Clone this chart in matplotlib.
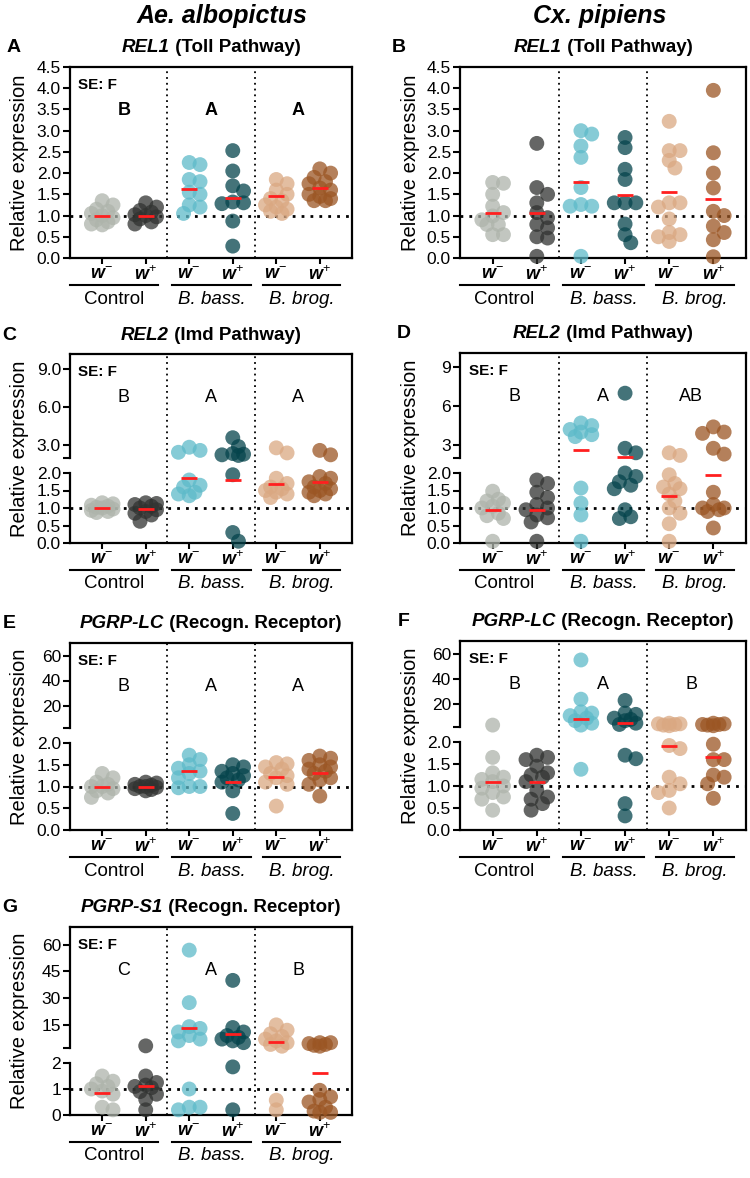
import numpy as np
import matplotlib
matplotlib.use('Agg')
import matplotlib.pyplot as plt
from matplotlib import transforms
from matplotlib.offsetbox import TextArea, HPacker, AnchoredOffsetbox

plt.rcParams['font.family'] = 'Liberation Sans'
plt.rcParams['mathtext.fontset'] = 'custom'
plt.rcParams['mathtext.it'] = 'Liberation Sans:italic:bold'
plt.rcParams['mathtext.rm'] = 'Liberation Sans'
plt.rcParams['mathtext.bf'] = 'Liberation Sans:bold'

# ---- data ----
# group order: Control w-, Control w+, B. bass. w-, B. bass. w+, B. brog. w-, B. brog. w+
group_names = ['Control', 'B. bass.', 'B. brog.']
strain_labels = [r'$w^{-}$', r'$w^{+}$']

# A  REL1, Ae. albopictus
rel1_alb = [[1.35, 1.25, 1.15, 1.1, 1.05, 1.0, 0.95, 0.9, 0.85, 0.8, 0.78],
            [1.3, 1.2, 1.12, 1.08, 1.02, 1.0, 0.97, 0.92, 0.85, 0.8],
            [2.25, 2.2, 1.85, 1.8, 1.55, 1.5, 1.25, 1.2, 1.05],
            [2.53, 2.05, 1.7, 1.58, 1.32, 1.3, 1.28, 0.87, 0.28],
            [1.85, 1.75, 1.6, 1.5, 1.4, 1.35, 1.25, 1.2, 1.15, 1.1, 1.05],
            [2.1, 2.0, 1.9, 1.8, 1.75, 1.65, 1.6, 1.5, 1.45, 1.4, 1.35, 1.35]]
rel1_alb_mean = [1.0, 1.0, 1.63, 1.41, 1.45, 1.65]
rel1_alb_sig = ['B', 'A', 'A']

# B  REL1, Cx. pipiens
rel1_pip = [[1.78, 1.76, 1.5, 1.22, 1.07, 0.99, 0.9, 0.79, 0.79, 0.55, 0.55],
            [2.7, 1.66, 1.5, 1.3, 1.07, 0.95, 0.79, 0.71, 0.5, 0.47, 0.04],
            [3.0, 2.92, 2.64, 2.37, 1.66, 1.26, 1.22, 1.22, 0.04],
            [2.84, 2.6, 2.09, 1.85, 1.3, 1.3, 1.3, 0.8, 0.55, 0.36],
            [3.22, 2.53, 2.53, 2.3, 2.12, 1.3, 1.3, 1.2, 0.92, 0.6, 0.55, 0.5, 0.39],
            [3.95, 2.48, 2.0, 1.65, 1.1, 1.0, 0.75, 0.6, 0.43, 0.03]]
rel1_pip_mean = [1.07, 1.05, 1.8, 1.49, 1.56, 1.38]
rel1_pip_sig = None

# C  REL2, Ae. albopictus
rel2_alb = [[1.15, 1.12, 1.08, 1.05, 1.02, 1.0, 0.97, 0.93, 0.9, 0.87],
            [1.15, 1.13, 1.1, 1.05, 1.0, 0.95, 0.9, 0.85, 0.8, 0.62],
            [2.85, 2.6, 2.45, 1.8, 1.65, 1.6, 1.45, 1.4, 1.35],
            [3.6, 2.9, 2.35, 2.3, 2.25, 2.2, 1.95, 0.3, 0.05],
            [2.8, 2.4, 1.85, 1.7, 1.6, 1.55, 1.5, 1.45, 1.4, 1.3],
            [2.6, 2.25, 1.9, 1.85, 1.75, 1.7, 1.6, 1.55, 1.5, 1.45, 1.4, 1.35]]
rel2_alb_mean = [1.0, 0.96, 1.87, 1.79, 1.7, 1.75]
rel2_alb_sig = ['B', 'A', 'A']

# D  REL2, Cx. pipiens
rel2_pip = [[1.48, 1.25, 1.2, 1.14, 1.05, 1.0, 0.85, 0.78, 0.7, 0.05],
            [1.8, 1.7, 1.45, 1.3, 1.1, 1.0, 0.95, 0.8, 0.72, 0.6, 0.05],
            [4.7, 4.5, 4.2, 4.0, 3.8, 3.65, 1.57, 1.14, 0.8, 0.05],
            [7.0, 2.75, 2.4, 2.0, 1.9, 1.75, 1.65, 1.55, 0.95, 0.75, 0.7],
            [2.4, 2.2, 1.95, 1.7, 1.6, 1.55, 1.4, 1.2, 1.0, 0.85, 0.55, 0.05],
            [4.4, 4.0, 3.9, 2.75, 2.3, 1.45, 1.1, 1.0, 1.0, 0.95, 0.9, 0.43]]
rel2_pip_mean = [0.95, 0.95, 2.62, 2.1, 1.33, 1.93]
rel2_pip_sig = ['B', 'A', 'AB']

# E  PGRP-LC, Ae. albopictus
lc_alb = [[1.3, 1.2, 1.1, 1.05, 1.0, 1.0, 0.95, 0.9, 0.85, 0.75],
          [1.1, 1.08, 1.05, 1.03, 1.0, 1.0, 0.98, 0.95, 0.93, 0.9],
          [1.72, 1.62, 1.5, 1.42, 1.35, 1.3, 1.2, 1.0, 1.0, 0.97],
          [1.5, 1.45, 1.35, 1.3, 1.25, 1.2, 1.15, 1.1, 0.9, 0.38],
          [1.55, 1.52, 1.45, 1.4, 1.3, 1.25, 1.2, 1.1, 1.05, 0.55],
          [1.7, 1.65, 1.6, 1.5, 1.45, 1.4, 1.35, 1.3, 1.2, 1.15, 1.05, 0.78]]
lc_alb_mean = [1.0, 1.0, 1.36, 1.11, 1.22, 1.3]
lc_alb_sig = ['B', 'A', 'A']

# F  PGRP-LC, Cx. pipiens
lc_pip = [[3.5, 1.65, 1.3, 1.2, 1.15, 1.1, 1.0, 0.95, 0.85, 0.75, 0.7, 0.45],
          [1.7, 1.65, 1.6, 1.45, 1.3, 1.25, 1.2, 1.1, 0.9, 0.75, 0.7, 0.6, 0.45],
          [55, 24, 14, 13, 11, 9, 7, 5, 3.5, 1.38],
          [23, 13, 12, 9, 8, 7, 5, 4, 1.7, 1.62, 0.6, 0.32],
          [5, 4.5, 4.5, 4, 3.5, 3, 1.92, 1.85, 1.2, 1.05, 0.9, 0.85, 0.5],
          [5, 4.5, 4, 4, 3.5, 3, 1.95, 1.6, 1.6, 1.25, 1.2, 1.05, 0.72]]
lc_pip_mean = [1.1, 1.08, 8.7, 5.5, 1.9, 1.65]
lc_pip_sig = ['B', 'A', 'B']

# G  PGRP-S1, Ae. albopictus
s1_alb = [[1.5, 1.3, 1.2, 1.1, 1.0, 0.92, 0.8, 0.3, 0.2],
          [3.2, 1.5, 1.25, 1.15, 1.1, 1.05, 0.9, 0.8, 0.6, 0.2],
          [57, 27.5, 14, 13, 11, 9, 7, 6, 1.0, 0.3, 0.3, 0.2],
          [40, 13.5, 11, 9, 8, 7, 6, 5, 1.85, 0.2],
          [15, 12, 10, 8.5, 7, 6, 5, 4, 3, 0.57, 0.2],
          [5, 5, 4.5, 4, 3.5, 3, 0.95, 0.7, 0.6, 0.5, 0.3, 0.15, 0.1, 0.1]]
s1_alb_mean = [0.86, 1.12, 13.5, 9.8, 5.5, 1.62]
s1_alb_sig = ['C', 'A', 'B']

# ---- style ----
colors = ['#aeb4ab', '#313331', '#5dbac9', '#05444c', '#daa882', '#9b5624']
W, H = 750, 1178
fig = plt.figure(figsize=(W / 100, H / 100), dpi=100)


def rect(l, t, r, b):
    return [l / W, 1 - b / H, (r - l) / W, (b - t) / H]


def broken_scale(lo_px, gap_px, up_px, up_max, lo_max=2.0):
    a = lo_px / lo_max
    bb = up_px / (up_max - lo_max)

    def fwd(y):
        y = np.asarray(y, float)
        return np.where(y <= lo_max, y * a, lo_px + gap_px + (y - lo_max) * bb)

    def inv(u):
        u = np.asarray(u, float)
        return np.where(u <= lo_px, u / a,
                        np.where(u < lo_px + gap_px, lo_max,
                                 lo_max + (u - lo_px - gap_px) / bb))
    return fwd, inv


def swarm(ax, xc, vals, d):
    # spread overlapping dots sideways, allowing a fair amount of overlap
    pts = ax.transData.transform(np.column_stack([np.full(len(vals), xc), vals]))
    ypx = pts[:, 1]
    ppu = ax.transData.transform([[1, 0]])[0, 0] - ax.transData.transform([[0, 0]])[0, 0]
    cands = np.array([0, 0.38, -0.38, 0.72, -0.72]) * d
    placed = []
    offs = np.zeros(len(vals))
    for i in np.argsort(-ypx):
        best, best_score = 0, -1
        for c in cands:
            dmin = min([np.hypot(c - ox, ypx[i] - oy) for ox, oy in placed] + [1e9])
            if dmin >= 0.6 * d:
                best = c
                break
            if dmin > best_score:
                best, best_score = c, dmin
        placed.append((best, ypx[i]))
        offs[i] = best
    return xc + offs / ppu


panels = [
    dict(tag='A', vals=rel1_alb, means=rel1_alb_mean, sig=rel1_alb_sig, box=(70, 67, 352, 258),
         gene='REL1', rest=' (Toll Pathway)', bold_sig=True, brk=None),
    dict(tag='B', vals=rel1_pip, means=rel1_pip_mean, sig=rel1_pip_sig, box=(460, 67, 746, 258),
         gene='REL1', rest=' (Toll Pathway)', bold_sig=False, brk=None),
    dict(tag='C', vals=rel2_alb, means=rel2_alb_mean, sig=rel2_alb_sig, box=(70, 354, 352, 543),
         gene='REL2', rest=' (Imd Pathway)', bold_sig=False,
         brk=(70, 15, 104, 10.2), up_ticks=[3, 6, 9], up_fmt='{:.1f}', lo_ticks=[0, 0.5, 1, 1.5, 2], lo_fmt='{:.1f}'),
    dict(tag='D', vals=rel2_pip, means=rel2_pip_mean, sig=rel2_pip_sig, box=(460, 353, 746, 543),
         gene='REL2', rest=' (Imd Pathway)', bold_sig=False,
         brk=(70, 15, 105, 10.1), up_ticks=[3, 6, 9], up_fmt='{:.0f}', lo_ticks=[0, 0.5, 1, 1.5, 2], lo_fmt='{:.1f}'),
    dict(tag='E', vals=lc_alb, means=lc_alb_mean, sig=lc_alb_sig, box=(70, 643, 352, 830),
         gene='PGRP-LC', rest=' (Recogn. Receptor)', bold_sig=False,
         brk=(87, 15, 85, 70), up_ticks=[20, 40, 60], up_fmt='{:.0f}', lo_ticks=[0, 0.5, 1, 1.5, 2], lo_fmt='{:.1f}'),
    dict(tag='F', vals=lc_pip, means=lc_pip_mean, sig=lc_pip_sig, box=(460, 641, 746, 830),
         gene='PGRP-LC', rest=' (Recogn. Receptor)', bold_sig=False,
         brk=(88, 15, 86, 70), up_ticks=[20, 40, 60], up_fmt='{:.0f}', lo_ticks=[0, 0.5, 1, 1.5, 2], lo_fmt='{:.1f}'),
    dict(tag='G', vals=s1_alb, means=s1_alb_mean, sig=s1_alb_sig, box=(70, 927, 352, 1115),
         gene='PGRP-S1', rest=' (Recogn. Receptor)', bold_sig=False,
         brk=(52, 15, 121, 70), up_ticks=[15, 30, 45, 60], up_fmt='{:.0f}', lo_ticks=[0, 1, 2], lo_fmt='{:.0f}'),
]
tag_x = {'A': 14, 'B': 399, 'C': 9, 'D': 404, 'E': 9, 'F': 404, 'G': 10}

line_spans = [(-0.74, 1.28), (1.6, 3.42), (3.7, 5.46)]
dot_d = 15  # marker diameter in px

for p in panels:
    l, t, r, b = p['box']
    hpx = b - t
    ax = fig.add_axes(rect(l, t, r, b))
    ax.set_xlim(-0.74, 5.74)
    if p['brk'] is None:
        ax.set_ylim(0, 4.5)
        yt = np.arange(0, 4.51, 0.5)
        ax.set_yticks(yt)
        ax.set_yticklabels(['{:.1f}'.format(v) for v in yt])
    else:
        lo_px, gap_px, up_px, up_max = p['brk']
        ax.set_yscale('function', functions=broken_scale(lo_px, gap_px, up_px, up_max))
        ax.set_ylim(0, up_max)
        yt = list(p['lo_ticks']) + [2.0001] + list(p['up_ticks'])
        lab = [p['lo_fmt'].format(v) for v in p['lo_ticks']] + [''] + [p['up_fmt'].format(v) for v in p['up_ticks']]
        ax.set_yticks(yt)
        ax.set_yticklabels(lab)
        ax.yaxis.set_minor_locator(matplotlib.ticker.NullLocator())
        ax.spines['left'].set_visible(False)
        yt_tr = ax.get_yaxis_transform()
        ax.plot([0, 0], [0, 2.0], transform=yt_tr, color='k', lw=1.6, clip_on=False, solid_capstyle='projecting')
        ax.plot([0, 0], [2.0001, up_max], transform=yt_tr, color='k', lw=1.6, clip_on=False, solid_capstyle='projecting')

    for s in ax.spines.values():
        s.set_linewidth(1.6)
    ax.tick_params(axis='y', length=5, width=1.5, labelsize=12.5, pad=1.5)
    ax.tick_params(axis='x', length=4, width=1.5, labelsize=13, pad=1.5)
    ax.set_xticks(range(6))
    ax.set_xticklabels(strain_labels * 3)

    ax.axhline(1, color='k', lw=2.0, ls=(0, (1, 2.2)), zorder=1)
    for xs in (1.5, 3.5):
        ax.axvline(xs, color='k', lw=1.3, ls=(0, (1, 2.2)), zorder=1)

    for i, v in enumerate(p['vals']):
        xs = swarm(ax, i, v, dot_d)
        ax.scatter(xs, v, s=115, color=colors[i], alpha=0.75, edgecolors='none', zorder=3, clip_on=False)
        ax.hlines(p['means'][i], i - 0.18, i + 0.18, color='#ff1f1f', lw=2.0, zorder=4)

    trans = transforms.blended_transform_factory(ax.transData, ax.transAxes)
    for (x0, x1), name in zip(line_spans, group_names):
        ax.plot([x0, x1], [-27 / hpx] * 2, transform=trans, color='k', lw=1.5, clip_on=False)
        ax.text((x0 + x1) / 2, -41 / hpx, name, transform=trans, ha='center', va='center', fontsize=13.5,
                style='normal' if name == 'Control' else 'italic')

    if p['sig']:
        for k, letter in enumerate(p['sig']):
            ax.text(2 * k + 0.5, 0.77, letter, transform=trans, ha='center', va='center', fontsize=13,
                    weight='bold' if p['bold_sig'] else 'normal')
        ax.text(0.03, 0.905, 'SE: F', transform=ax.transAxes, fontsize=11, weight='bold', va='center')

    # title with italic gene name
    ta1 = TextArea(p['gene'], textprops=dict(fontsize=13.5, fontweight='bold', fontstyle='italic'))
    ta2 = TextArea(p['rest'], textprops=dict(fontsize=13.5, fontweight='bold'))
    box = HPacker(children=[ta1, ta2], align='baseline', pad=0, sep=0)
    ab = AnchoredOffsetbox(loc='center', child=box, pad=0, borderpad=0, frameon=False,
                           bbox_to_anchor=((l + r) / 2 / W, 1 - (t - 19) / H), bbox_transform=fig.transFigure)
    fig.add_artist(ab)
    fig.text(tag_x[p['tag']] / W, 1 - (t - 19) / H, p['tag'], fontsize=14, weight='bold', ha='center', va='center')
    fig.text((l - 50) / W, 1 - (t + b) / 2 / H, 'Relative expression', rotation=90, fontsize=14.5,
             ha='center', va='center')

fig.text(222 / W, 1 - 16 / H, 'Ae. albopictus', fontsize=18, weight='bold', style='italic', ha='center', va='center')
fig.text(600 / W, 1 - 16 / H, 'Cx. pipiens', fontsize=18, weight='bold', style='italic', ha='center', va='center')

fig.savefig('out.png', dpi=100)
